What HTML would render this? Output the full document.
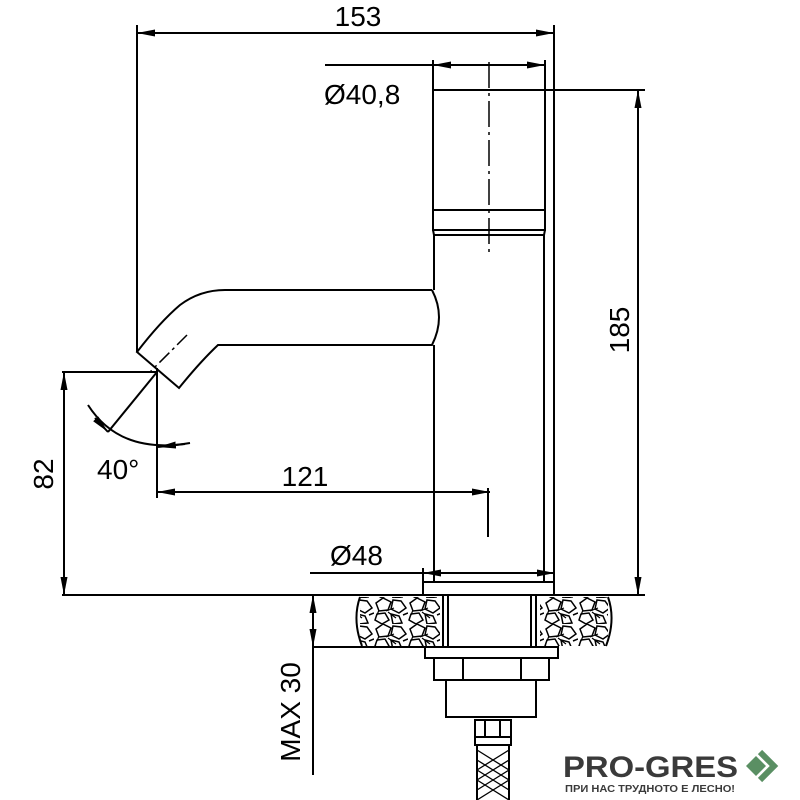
<!DOCTYPE html>
<html><head><style>html,body{margin:0;padding:0;background:#fff}svg{display:block}</style></head>
<body>
<svg width="800" height="800" viewBox="0 0 800 800" xmlns="http://www.w3.org/2000/svg" font-family="Liberation Sans, sans-serif">
<defs>
<marker id="a" viewBox="0 0 18 7" refX="18" refY="3.5" markerWidth="18" markerHeight="7" markerUnits="userSpaceOnUse" orient="auto-start-reverse"><path d="M0,0 L18,3.5 L0,7 Z" fill="#000"/></marker>
<pattern id="st" width="34" height="26" patternUnits="userSpaceOnUse">
<path d="M2,5 L9,0 L17,4 L14,12 L5,13 Z M19,2 L27,3 L32,10 L25,15 L17,11 Z M3,16 L11,15 L15,22 L8,26 L1,22 Z M17,16 L25,18 L28,25 L19,26 Z M29,17 L34,15" fill="none" stroke="#000" stroke-width="1.5"/>
<path d="M12,13 L20,10 M14,14 L22,20 M5,12 L3,17" fill="none" stroke="#000" stroke-width="1.2"/>
</pattern>
</defs>
<g stroke="#000" fill="none" stroke-width="2">
<line x1="137" y1="25" x2="137" y2="352"/>
<line x1="554" y1="25" x2="554" y2="582"/>
<line x1="137" y1="33" x2="554" y2="33" marker-start="url(#a)" marker-end="url(#a)"/>
<line x1="325" y1="65" x2="545" y2="65" marker-end="url(#a)"/>
<line x1="470" y1="65" x2="433" y2="65" marker-end="url(#a)"/>
<line x1="433" y1="60" x2="433" y2="90"/>
<line x1="545" y1="60" x2="545" y2="90"/>
<rect x="433" y="90" width="112" height="120"/>
<rect x="433" y="210" width="112" height="20"/>
<path d="M433,230 L434,235 L544,235 L545,230"/>
<line x1="489" y1="62" x2="489" y2="255" stroke-dasharray="26,5,3,5" stroke-width="1.5"/>
<line x1="434" y1="235" x2="434" y2="290"/>
<line x1="434" y1="345" x2="434" y2="582"/>
<line x1="544" y1="235" x2="544" y2="582"/>
<path d="M432,290 L225,290 Q200,290 180,305 Q160,322 137,352 L179,388 Q200,362 218,345 Q225,345 232,345 L432,345 Q446,317 432,290"/>
<line x1="187" y1="335" x2="150" y2="372" stroke-dasharray="14,4,3,4" stroke-width="1.5"/>
<line x1="545" y1="90" x2="645" y2="90"/>
<line x1="638" y1="90" x2="638" y2="595" marker-start="url(#a)" marker-end="url(#a)"/>
<line x1="62" y1="372" x2="158" y2="372"/>
<line x1="64" y1="372" x2="64" y2="595" marker-start="url(#a)" marker-end="url(#a)"/>
<line x1="157" y1="368" x2="157" y2="498"/>
<line x1="157" y1="372" x2="108" y2="432"/>
<path d="M88,405 Q120,455 190,443"/>
<line x1="95" y1="418" x2="108" y2="432" marker-end="url(#a)"/>
<line x1="185" y1="444" x2="158" y2="447" marker-end="url(#a)"/>
<line x1="157" y1="492" x2="490" y2="492" marker-start="url(#a)" marker-end="url(#a)"/>
<line x1="488" y1="488" x2="488" y2="537"/>
<line x1="310" y1="573" x2="555" y2="573" marker-end="url(#a)"/>
<line x1="460" y1="573" x2="423" y2="573" marker-end="url(#a)"/>
<line x1="423" y1="568" x2="423" y2="582"/>
<rect x="423" y="582" width="131" height="13"/>
<line x1="62" y1="595" x2="645" y2="595"/>
<line x1="313" y1="647" x2="425" y2="647"/>
<line x1="313" y1="595" x2="313" y2="647" marker-start="url(#a)" marker-end="url(#a)"/>
<line x1="313" y1="647" x2="313" y2="775"/>
</g>
<rect x="360" y="597" width="80" height="49" fill="url(#st)"/>
<rect x="540" y="597" width="68" height="49" fill="url(#st)"/>
<g stroke="#000" fill="none" stroke-width="2">
<path d="M360,597 Q352,620 362,646 M608,597 Q616,620 606,646"/>
<line x1="443" y1="595" x2="443" y2="647"/><line x1="448" y1="595" x2="448" y2="647"/>
<line x1="531" y1="595" x2="531" y2="647"/><line x1="536" y1="595" x2="536" y2="647"/>
<rect x="425" y="647" width="133" height="11"/>
<rect x="434" y="658" width="115" height="22"/>
<line x1="463" y1="658" x2="463" y2="680"/><line x1="521" y1="658" x2="521" y2="680"/>
<path d="M446,680 L446,717 L536,717 L536,680"/>
<rect x="475" y="720" width="36" height="25"/>
<line x1="485" y1="720" x2="485" y2="737"/><line x1="500" y1="720" x2="500" y2="737"/>
<line x1="475" y1="737" x2="511" y2="737"/>
<line x1="477" y1="745" x2="477" y2="800"/><line x1="509" y1="745" x2="509" y2="800"/>
<path d="M477,750 L509,770 M477,760 L509,780 M477,770 L509,790 M477,780 L509,800 M509,750 L477,770 M509,760 L477,780 M509,770 L477,790 M509,780 L477,800" stroke-width="1.3"/>
</g>
<g font-size="28" fill="#000">
<text x="358" y="26" text-anchor="middle">153</text>
<text x="324" y="104">Ø40,8</text>
<text x="305" y="486" text-anchor="middle">121</text>
<text x="97" y="479">40°</text>
<text x="330" y="565">Ø48</text>
<text transform="translate(629,330) rotate(-90)" text-anchor="middle">185</text>
<text transform="translate(53,474) rotate(-90)" text-anchor="middle">82</text>
<text transform="translate(300,712) rotate(-90)" text-anchor="middle">MAX 30</text>
</g>
<text x="563" y="777" font-size="30" font-weight="bold" fill="#3a3a3a" textLength="175" lengthAdjust="spacingAndGlyphs">PRO-GRES</text>
<text x="565" y="792" font-size="10" font-weight="bold" fill="#3a3a3a" textLength="170" lengthAdjust="spacingAndGlyphs">ПРИ НАС ТРУДНОТО Е ЛЕСНО!</text>
<path d="M746,766 L756,756 L766,766 L756,776 Z" fill="#5a8f63"/>
<path d="M760,752 L774,766 L760,780" fill="none" stroke="#5a8f63" stroke-width="6"/>
</svg>
</body></html>
